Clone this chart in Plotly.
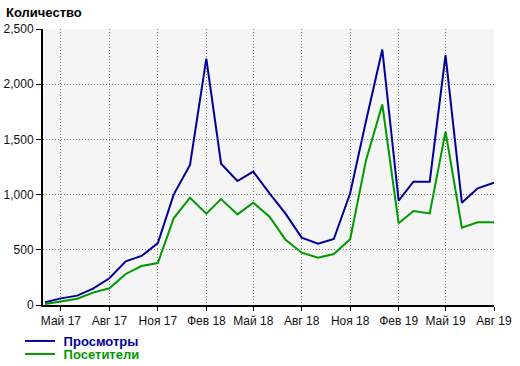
import plotly.graph_objects as go

months = ["2017-04-01", "2017-05-01", "2017-06-01", "2017-07-01", "2017-08-01", "2017-09-01",
          "2017-10-01", "2017-11-01", "2017-12-01", "2018-01-01", "2018-02-01", "2018-03-01",
          "2018-04-01", "2018-05-01", "2018-06-01", "2018-07-01", "2018-08-01", "2018-09-01",
          "2018-10-01", "2018-11-01", "2018-12-01", "2019-01-01", "2019-02-01", "2019-03-01",
          "2019-04-01", "2019-05-01", "2019-06-01", "2019-07-01", "2019-08-01"]

views = [25, 60, 85, 148, 242, 395, 444, 561, 1000, 1268, 2232, 1280, 1123, 1208, 1012,
         830, 610, 556, 598, 1012, 1665, 2314, 945, 1117, 1117, 2264, 927, 1057, 1108]

visitors = [10, 36, 57, 112, 151, 281, 353, 380, 785, 972, 827, 960, 821, 927, 800,
            592, 474, 429, 462, 595, 1310, 1816, 740, 851, 830, 1570, 700, 749, 749]

tick_vals = ["2017-05-01", "2017-08-01", "2017-11-01", "2018-02-01", "2018-05-01",
             "2018-08-01", "2018-11-01", "2019-02-01", "2019-05-01", "2019-08-01"]
tick_text = ["Май 17", "Авг 17", "Ноя 17", "Фев 18", "Май 18",
             "Авг 18", "Ноя 18", "Фев 19", "Май 19", "Авг 19"]

BLUE = "#000099"
GREEN = "#009900"
FONT = "Liberation Sans, Arial, sans-serif"

fig = go.Figure()
fig.add_trace(go.Scatter(x=months, y=views, mode="lines",
                         line=dict(color=BLUE, width=2), legend="legend",
                         name=f"<b><span style='color:{BLUE}'>&nbsp;Просмотры</span></b>"))
fig.add_trace(go.Scatter(x=months, y=visitors, mode="lines",
                         line=dict(color=GREEN, width=2), legend="legend2",
                         name=f"<b><span style='color:{GREEN}'>&nbsp;Посетители</span></b>"))

leg_common = dict(xref="container", yref="container", xanchor="left", yanchor="middle",
                  font=dict(family=FONT, size=13), itemwidth=30,
                  bgcolor="rgba(0,0,0,0)", borderwidth=0)

fig.update_layout(
    width=520, height=366,
    margin=dict(l=43, r=26, t=29, b=61, autoexpand=False),
    paper_bgcolor="white",
    plot_bgcolor="#f5f5f5",
    font=dict(family=FONT, size=12, color="#111111"),
    showlegend=True,
    legend=dict(x=20 / 520, y=1 - 341 / 366, **leg_common),
    legend2=dict(x=20 / 520, y=1 - 354 / 366, **leg_common),
    annotations=[dict(text="<b>Количество</b>", xref="paper", yref="paper",
                      x=(4 - 43) / 451, y=1.0, xanchor="left", yanchor="middle", yshift=17,
                      showarrow=False, font=dict(family=FONT, size=13, color="#000000"))],
)

fig.update_xaxes(
    type="date", range=["2017-03-28", "2019-08-01"],
    tickvals=tick_vals, ticktext=tick_text, automargin=False,
    showgrid=True, gridcolor="#808080", griddash="1px,2px", gridwidth=1,
    showline=True, linecolor="black", linewidth=2,
    ticks="outside", ticklen=4, tickcolor="black", tickwidth=1,
    zeroline=False, tickfont=dict(size=12, color="#111111"),
)
fig.update_yaxes(
    range=[0, 2500], tickvals=[0, 500, 1000, 1500, 2000, 2500],
    tickformat=",d", automargin=False,
    showgrid=True, gridcolor="#808080", griddash="1px,2px", gridwidth=1,
    showline=True, linecolor="black", linewidth=2,
    ticks="outside", ticklen=5, tickcolor="black", tickwidth=1,
    zeroline=False, tickfont=dict(size=12, color="#111111"),
)

fig.write_html("out.html", config={"displayModeBar": False},
               post_script="document.body.style.margin='0';document.body.style.overflow='hidden';")
